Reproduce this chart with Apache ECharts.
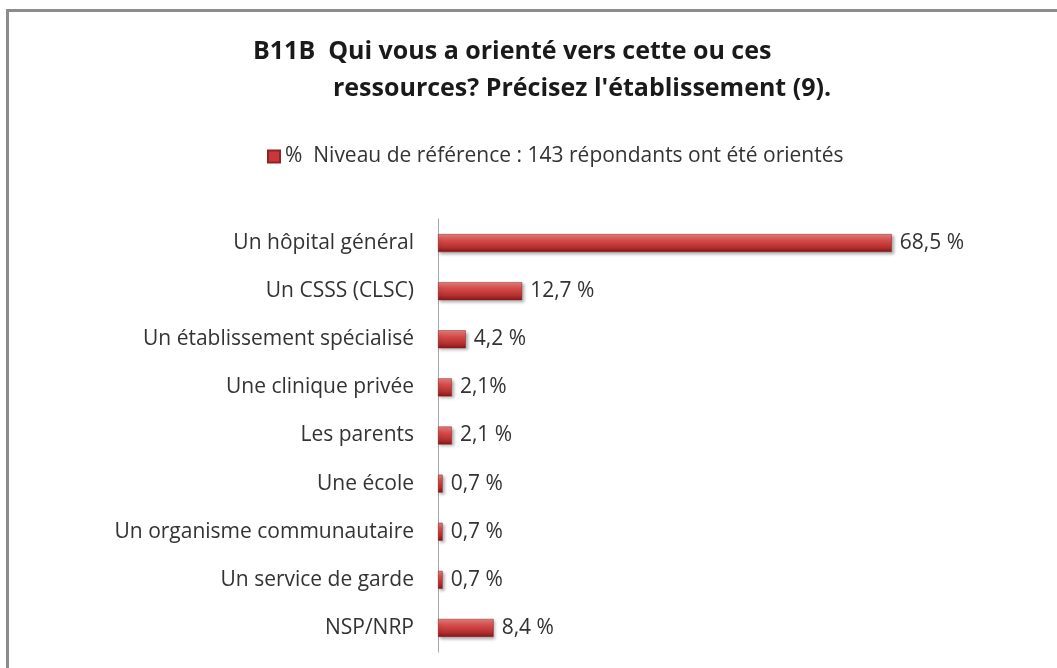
<!DOCTYPE html>
<html>
<head>
<meta charset="utf-8">
<script src="https://cdn.jsdelivr.net/npm/echarts@6/dist/echarts.min.js"></script>
<style>
  html, body { margin: 0; padding: 0; background: #fff; }
  #wrap { position: relative; width: 1057px; height: 668px; overflow: hidden; }
  #frame { position: absolute; left: 6px; top: 9px; width: 1200px; height: 800px;
           border-top: 3px solid #8c8c8c; border-left: 3px solid #8c8c8c; box-sizing: border-box; }
  #chart { position: absolute; left: 0; top: 0; width: 1057px; height: 668px; }
</style>
</head>
<body>
<div id="wrap">
  <div id="frame"></div>
  <div id="chart"></div>
</div>
<script>
const categories = [
  "Un hôpital général",
  "Un CSSS (CLSC)",
  "Un établissement spécialisé",
  "Une clinique privée",
  "Les parents",
  "Une école",
  "Un organisme communautaire",
  "Un service de garde",
  "NSP/NRP",
];
const values = [68.5, 12.7, 4.2, 2.1, 2.1, 0.7, 0.7, 0.7, 8.4];
const valueLabels = ["68,5 %", "12,7 %", "4,2 %", "2,1%", "2,1 %", "0,7 %", "0,7 %", "0,7 %", "8,4 %"];
const seriesName = "%  Niveau de référence : 143 répondants ont été orientés";

const font = "'Open Sans', Lato, sans-serif";
const chart = echarts.init(document.getElementById("chart"));

const barColor = new echarts.graphic.LinearGradient(0, 0, 0, 1, [
  { offset: 0, color: "#ea8280" },
  { offset: 0.35, color: "#d44c4a" },
  { offset: 0.75, color: "#b52e2f" },
  { offset: 1, color: "#7e1719" },
]);

chart.setOption({
  animation: false,
  title: [
    {
      text: "B11B  Qui vous a orienté vers cette ou ces",
      left: 248,
      top: 34,
      textStyle: { fontFamily: font, fontSize: 25, fontWeight: "bold", color: "#1a1a1a" },
    },
    {
      text: "ressources? Précisez l'établissement (9).",
      left: 328,
      top: 71,
      textStyle: { fontFamily: font, fontSize: 25, fontWeight: "bold", color: "#1a1a1a" },
    },
  ],
  legend: {
    left: 262,
    top: 141,
    icon: "rect",
    itemWidth: 12,
    itemHeight: 12,
    itemGap: 6,
    textStyle: { fontFamily: font, fontSize: 21, color: "#333" },
    data: [{ name: seriesName, itemStyle: { color: "#c8383a" } }],
  },
  grid: {
    left: 438,
    right: 89,
    top: 219,
    bottom: 16,
    containLabel: false,
  },
  xAxis: {
    type: "value",
    min: 0,
    max: 80,
    show: false,
  },
  yAxis: {
    type: "category",
    inverse: true,
    data: categories,
    axisLine: { show: true, lineStyle: { color: "#a6a6a6", width: 1 } },
    axisTick: { show: false },
    axisLabel: { fontFamily: font, fontSize: 21, color: "#333", margin: 24 },
  },
  series: [
    {
      name: seriesName,
      type: "bar",
      barWidth: 18,
      data: values,
      itemStyle: {
        color: barColor,
        borderColor: "#8e2224",
        borderWidth: 0.5,
        shadowColor: "rgba(0,0,0,0.3)",
        shadowBlur: 3,
        shadowOffsetX: 2,
        shadowOffsetY: 2,
      },
      label: {
        show: true,
        position: "right",
        distance: 8,
        fontFamily: font,
        fontSize: 21,
        color: "#333",
        formatter: (p) => valueLabels[p.dataIndex],
      },
    },
  ],
});
</script>
</body>
</html>
